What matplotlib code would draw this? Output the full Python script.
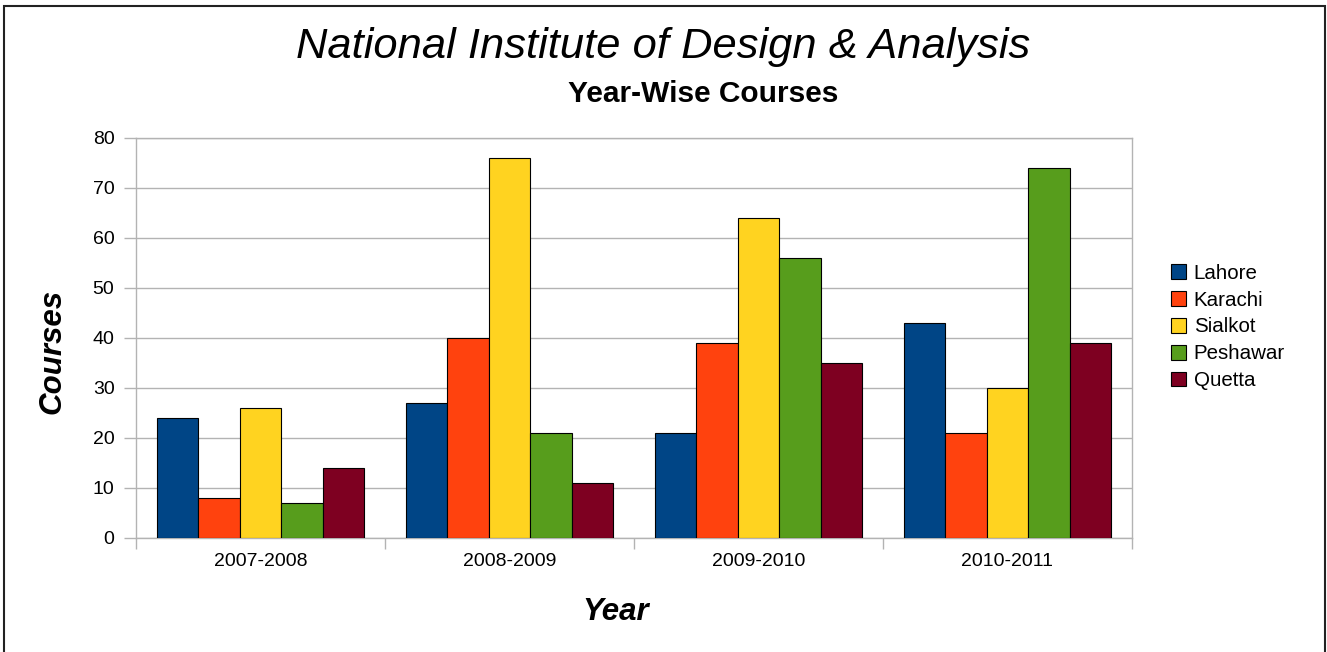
import numpy as np
import matplotlib
matplotlib.use('Agg')
import matplotlib.pyplot as plt
from matplotlib.patches import Rectangle

plt.rcParams['font.family'] = ['Liberation Sans', 'DejaVu Sans']

years = ['2007-2008', '2008-2009', '2009-2010', '2010-2011']
cities = ['Lahore', 'Karachi', 'Sialkot', 'Peshawar', 'Quetta']
lahore = [24, 27, 21, 43]
karachi = [8, 40, 39, 21]
sialkot = [26, 76, 64, 30]
peshawar = [7, 21, 56, 74]
quetta = [14, 11, 35, 39]
colors = ['#004586', '#ff420e', '#ffd320', '#579d1c', '#7e0021']

series = [lahore, karachi, sialkot, peshawar, quetta]

fig = plt.figure(figsize=(13.27, 6.52), dpi=100)
ax = fig.add_axes([136 / 1327, 114 / 652, 996 / 1327, 400 / 652])

x = np.arange(len(years))
w = 0.167
for i, (name, vals) in enumerate(zip(cities, series)):
    ax.bar(x + (i - 2) * w, vals, w, color=colors[i], edgecolor='black',
           linewidth=0.8, label=name, zorder=3)

grey = '#b3b3b3'
ax.set_xlim(-0.5, len(years) - 0.5)
ax.set_ylim(0, 80)
ax.set_yticks(np.arange(0, 81, 10))
ax.yaxis.grid(True, color=grey, linewidth=1, zorder=0)
for s in ax.spines.values():
    s.set_color(grey)
    s.set_linewidth(1)

ax.set_xticks(x)
ax.set_xticklabels(years)
ax.set_xticks(np.arange(-0.5, len(years)), minor=True)
ax.tick_params(axis='x', which='major', length=0, pad=11, labelsize=14)
ax.tick_params(axis='x', which='minor', length=8, width=1, color=grey)
ax.tick_params(axis='y', length=8.5, width=1, color=grey, pad=7,
               labelsize=14)

fig.legend(loc='center left', bbox_to_anchor=(0.8685, 0.4985),
           frameon=False, fontsize=14.8, handlelength=0.73,
           handleheight=0.73, handletextpad=0.38, labelspacing=0.38)

fig.text(0.5, 1 - 58 / 652, 'National Institute of Design & Analysis',
         ha='center', va='baseline', fontsize=31.3, style='italic')
fig.text(703 / 1327, 1 - 102 / 652, 'Year-Wise Courses', ha='center',
         va='baseline', fontsize=21.5, weight='bold')
fig.text(52 / 1327, 1 - 351 / 652, 'Courses', rotation=90, ha='center',
         va='center', fontsize=22.5, weight='bold', style='italic')
fig.text(616 / 1327, 1 - 620 / 652, 'Year', ha='center', va='baseline',
         fontsize=22.5, weight='bold', style='italic')

fig.patches.append(Rectangle((4 / 1327, -0.1), 1321 / 1327, 1.1 - 6 / 652,
                             transform=fig.transFigure, fill=False,
                             edgecolor='#222222', linewidth=1.5))

fig.savefig('out.png', dpi=100)
